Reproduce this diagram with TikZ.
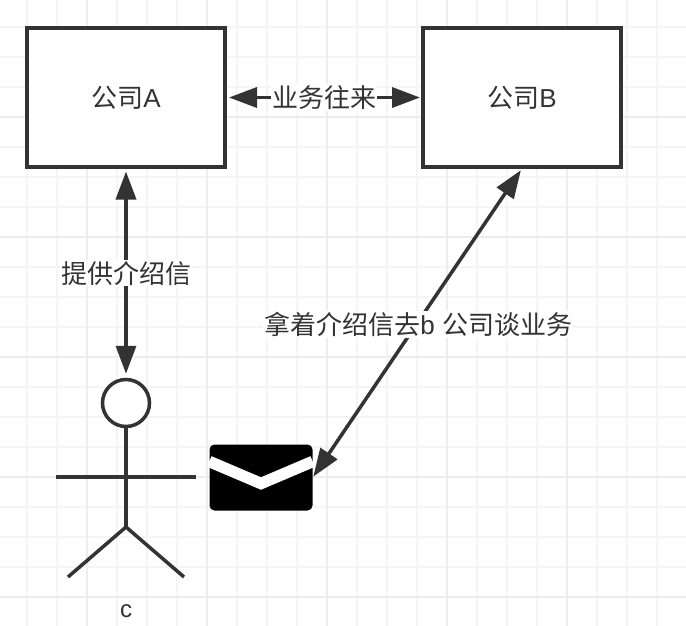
\documentclass[tikz,border=0pt]{standalone}
\usepackage{fontspec}
\setmainfont{Liberation Sans}
\newfontfamily\cjk{Noto Sans CJK SC}
\usepackage{tikz}
\usetikzlibrary{arrows.meta,positioning,calc}
\definecolor{ink}{HTML}{333333}
\definecolor{gridminor}{HTML}{F5F5F5}
\definecolor{gridmajor}{HTML}{EDEDED}
\newcommand{\lblsize}{\fontsize{26}{30}\selectfont}

\begin{document}
\begin{tikzpicture}[
  x=1pt, y=-1pt,
  font=\lblsize,
  r/.style={rectangle, draw=ink, fill=white, line width=4pt, minimum width=198pt,
            minimum height=138pt, align=center, inner sep=0pt},
  arr/.style={{Triangle[length=28pt,width=20pt]}-{Triangle[length=28pt,width=20pt]},
              draw=ink, fill=ink, line width=3.5pt},
  lbl/.style={fill=white, text=ink, inner sep=1pt},
  limb/.style={draw=ink, line width=3.5pt},
  minor/.style={gridminor, line width=2pt},
  major/.style={gridmajor, line width=2pt}
]
  \useasboundingbox (0,0) rectangle (686,626);
  \fill[white] (0,0) rectangle (686,626);
  % grid
  \foreach \gx in {27,57,...,687} \draw[minor] (\gx,0) -- (\gx,626);
  \foreach \gy in {27,57,...,597} \draw[minor] (0,\gy) -- (686,\gy);
  \foreach \gx in {87,207,327,447,567} \draw[major] (\gx,0) -- (\gx,626);
  \foreach \gy in {117,237,357,477,597} \draw[major] (0,\gy) -- (686,\gy);

  \node[r,text=ink] (compa) at (126,97.5) {\raisebox{-2.5pt}{{\cjk 公司}A}};
  \node[r,text=ink] (compb) at (522,97.5) {\raisebox{-2.5pt}{{\cjk 公司}B}};

  % person
  \node[circle, draw=ink, fill=white, line width=3.5pt, minimum size=47pt, inner sep=0pt] (head) at (126,403) {};
  \coordinate (hip) at (126,527);
  \coordinate (handl) at (56,477);
  \coordinate (handr) at (196,477);
  \coordinate (footl) at (68,577);
  \coordinate (footr) at (184,577);
  \draw[limb] (head.south) -- (hip);
  \draw[limb] (handl) -- (handr);
  \draw[limb] (footl) -- (hip) -- (footr);
  \node[text=ink, font=\fontsize{24}{26}\selectfont] (cname) at (126,611) {c};

  % letter
  \node[rectangle, fill=black, rounded corners=5pt, minimum width=103pt, minimum height=66pt, inner sep=0pt] (mail) at (261,477.5) {};
  \draw[white, line width=11.5pt] ($(mail.west)+(0,-16)$) -- ($(mail.center)+(0,6)$) -- ($(mail.east)+(0,-16)$);

  \draw[arr, shorten <=2pt, shorten >=1pt] (compa) -- node[lbl]{\raisebox{-1.5pt}{\cjk 业务往来}} (compb);
  \draw[arr, shorten <=3pt, shorten >=4pt] (compa) -- node[lbl, pos=.5]{\cjk 提供介绍信} (head);
  \draw[arr, shorten <=2pt, shorten >=1pt] (compb.south) -- node[lbl, pos=.505, xshift=2pt]{{\cjk 拿着介绍信去}b {\cjk 公司谈业务}} (mail.east);
\end{tikzpicture}
\end{document}
